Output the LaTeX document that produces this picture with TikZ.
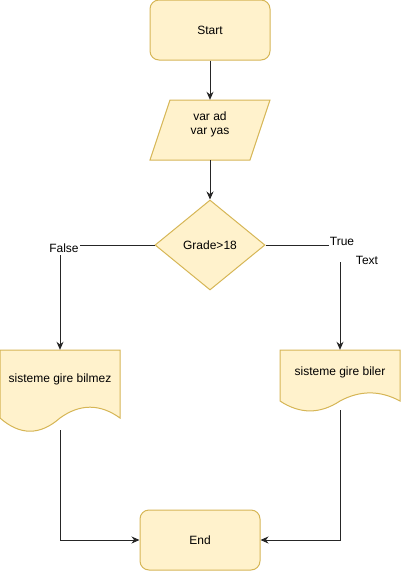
\documentclass[tikz,border=0pt]{standalone}
\usepackage{fontspec}
\setmainfont{Liberation Sans}
\usetikzlibrary{shapes.geometric,arrows.meta}

\definecolor{boxfill}{HTML}{FFF2CC}
\definecolor{boxline}{HTML}{D6B656}

\tikzset{
	flow/.style={fill=boxfill,draw=boxline,line width=1pt},
	term/.style={flow,rectangle,rounded corners=9pt,minimum width=120pt,minimum height=60pt},
	cond/.style={flow,diamond,minimum width=110pt,minimum height=90pt,inner sep=0pt},
	slot/.style={draw=none,minimum width=120pt,inner sep=0pt},
	wire/.style={line width=1pt,draw=black!85},
	conn/.style={wire,-{Stealth[length=8pt,width=7pt]}},
	tag/.style={fill=white,inner sep=1pt}
}

\begin{document}
\begin{tikzpicture}[x=1pt,y=-1pt,font=\fontsize{12}{14}\selectfont]
		\useasboundingbox (0,0) rectangle (401,571);
		
		% start and input
		\node[term] (start) at (210,30) {Start};
		\node[slot,minimum height=60pt] (input) at (210,130) {};
		\filldraw[flow] (170,100) -- (270,100) -- (250,160) -- (150,160) -- cycle;
		\node[align=center] (inputtext) at (210,124) {var ad\\var yas};
		
		% decision
		\node[cond] (check) at (210,245) {Grade>18};
		
		% documents
		\node[slot,minimum height=80pt] (nogo) at (60,390) {};
		\filldraw[flow] (0,350) -- (120,350) -- (120,418)
			.. controls (100,403.6) and (80,403.6) .. (60,418)
			.. controls (40,435.6) and (20,435.6) .. (0,418) -- cycle;
		\node (nogotext) at (60,379) {sisteme gire bilmez};
		
		\node[slot,minimum height=60pt] (go) at (340,380) {};
		\filldraw[flow] (280,350) -- (400,350) -- (400,401)
			.. controls (380,390.2) and (360,390.2) .. (340,401)
			.. controls (320,414.2) and (300,414.2) .. (280,401) -- cycle;
		\node (gotext) at (340,372) {sisteme gire biler};
		
		\node[term] (end) at (200,540) {End};
		
		% notations
		\node[tag] (no) at (64,248) {False};
		\node[tag] (yes) at (342,241) {True};
		\node (extra) at (367,260) {Text};
		\coordinate (nodrop) at (60,255);
		\coordinate (yesdrop) at (340,262);
		
		% connectors
		\draw[conn] (start) -- (input);
		\draw[conn] (input) -- (check);
		\draw[wire] (check.west) -- (check.west -| no.east);
		\draw[conn] (nodrop) -- (nogo.north);
		\draw[wire] (check.east) -- (check.east -| yes.west);
		\draw[conn] (yesdrop) -- (go.north);
		\draw[conn] (nogo.south) |- (end.west);
		\draw[conn] (go.south) |- (end.east);
	\end{tikzpicture}
\end{document}
